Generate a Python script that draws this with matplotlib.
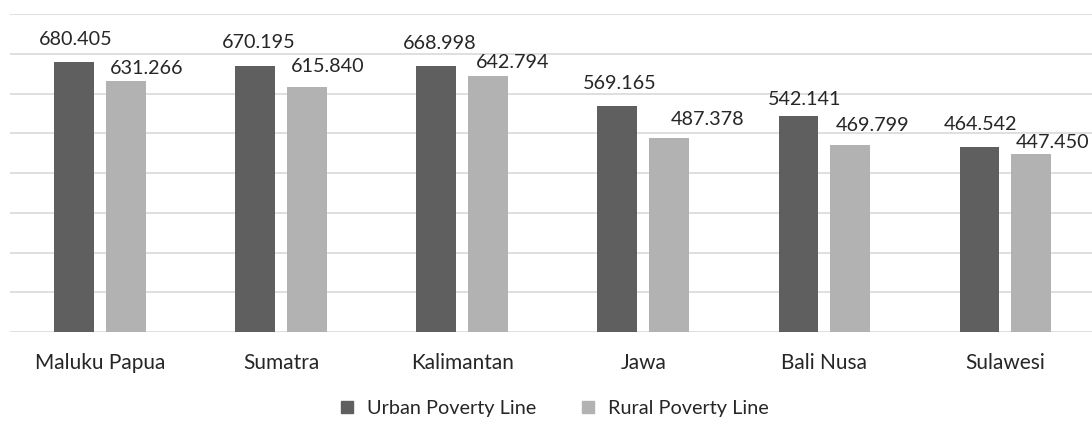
import matplotlib.pyplot as plt
from matplotlib.lines import Line2D
import numpy as np

# data
regions = ["Maluku Papua", "Sumatra", "Kalimantan", "Jawa", "Bali Nusa", "Sulawesi"]
urban = [680405, 670195, 668998, 569165, 542141, 464542]
rural = [631266, 615840, 642794, 487378, 469799, 447450]
series_names = ["Urban Poverty Line", "Rural Poverty Line"]

# label nudges in pixels (dx from bar centre, gap above bar top)
urban_off = [(2, 17), (3, 18), (3, 17), (2, 17), (6, 11), (1, 17)]
rural_off = [(21, 7), (21, 15), (25, 8), (38, 13), (22, 14), (21, 6)]

dark = "#5f5f5f"
light = "#b2b2b2"
grid_c = "#d9d9d9"
txt_c = "#262626"

plt.rcParams['font.family'] = ['Lato', 'DejaVu Sans']

fig = plt.figure(figsize=(10.92, 4.22), dpi=100)
ax = fig.add_axes([9.5 / 1092, 90 / 422, 1086.5 / 1092, 318 / 422])

x = np.arange(len(regions))
w = 0.22
gap = 0.066
shift = (w + gap) / 2
b1 = ax.bar(x - shift, urban, w, color=dark, zorder=3)
b2 = ax.bar(x + shift, rural, w, color=light, zorder=3)

ax.set_xlim(-0.5, len(regions) - 0.5)
ax.set_ylim(0, 800000)
ax.set_yticks(np.arange(0, 800001, 100000))
ax.yaxis.grid(True, color=grid_c, lw=1.2, zorder=0)
ax.tick_params(axis='y', left=False, labelleft=False)
ax.tick_params(axis='x', length=0, pad=15, labelsize=15, labelcolor=txt_c)
ax.set_xticks(x)
ax.set_xticklabels(regions)
for s in ax.spines.values():
    s.set_visible(False)


def fmt(v):
    return "{:,}".format(v).replace(",", ".")


px = 0.72
for bars, vals, offs in ((b1, urban, urban_off), (b2, rural, rural_off)):
    for bar, v, (dx, dy) in zip(bars, vals, offs):
        ax.annotate(fmt(v), xy=(bar.get_x() + bar.get_width() / 2, v),
                    xytext=(dx * px, dy * px), textcoords="offset points",
                    ha="center", va="baseline", fontsize=14.2, color=txt_c,
                    annotation_clip=False)

handles = [Line2D([], [], ls="none", marker="s", markersize=8, color=c)
           for c in (dark, light)]
fig.legend(handles, series_names, loc="center", bbox_to_anchor=(0.507, 0.033),
           ncol=2, frameon=False, fontsize=14.3, handlelength=0.8,
           handletextpad=0.6, columnspacing=2.2, labelcolor=txt_c)

fig.savefig("out.png", dpi=100)
